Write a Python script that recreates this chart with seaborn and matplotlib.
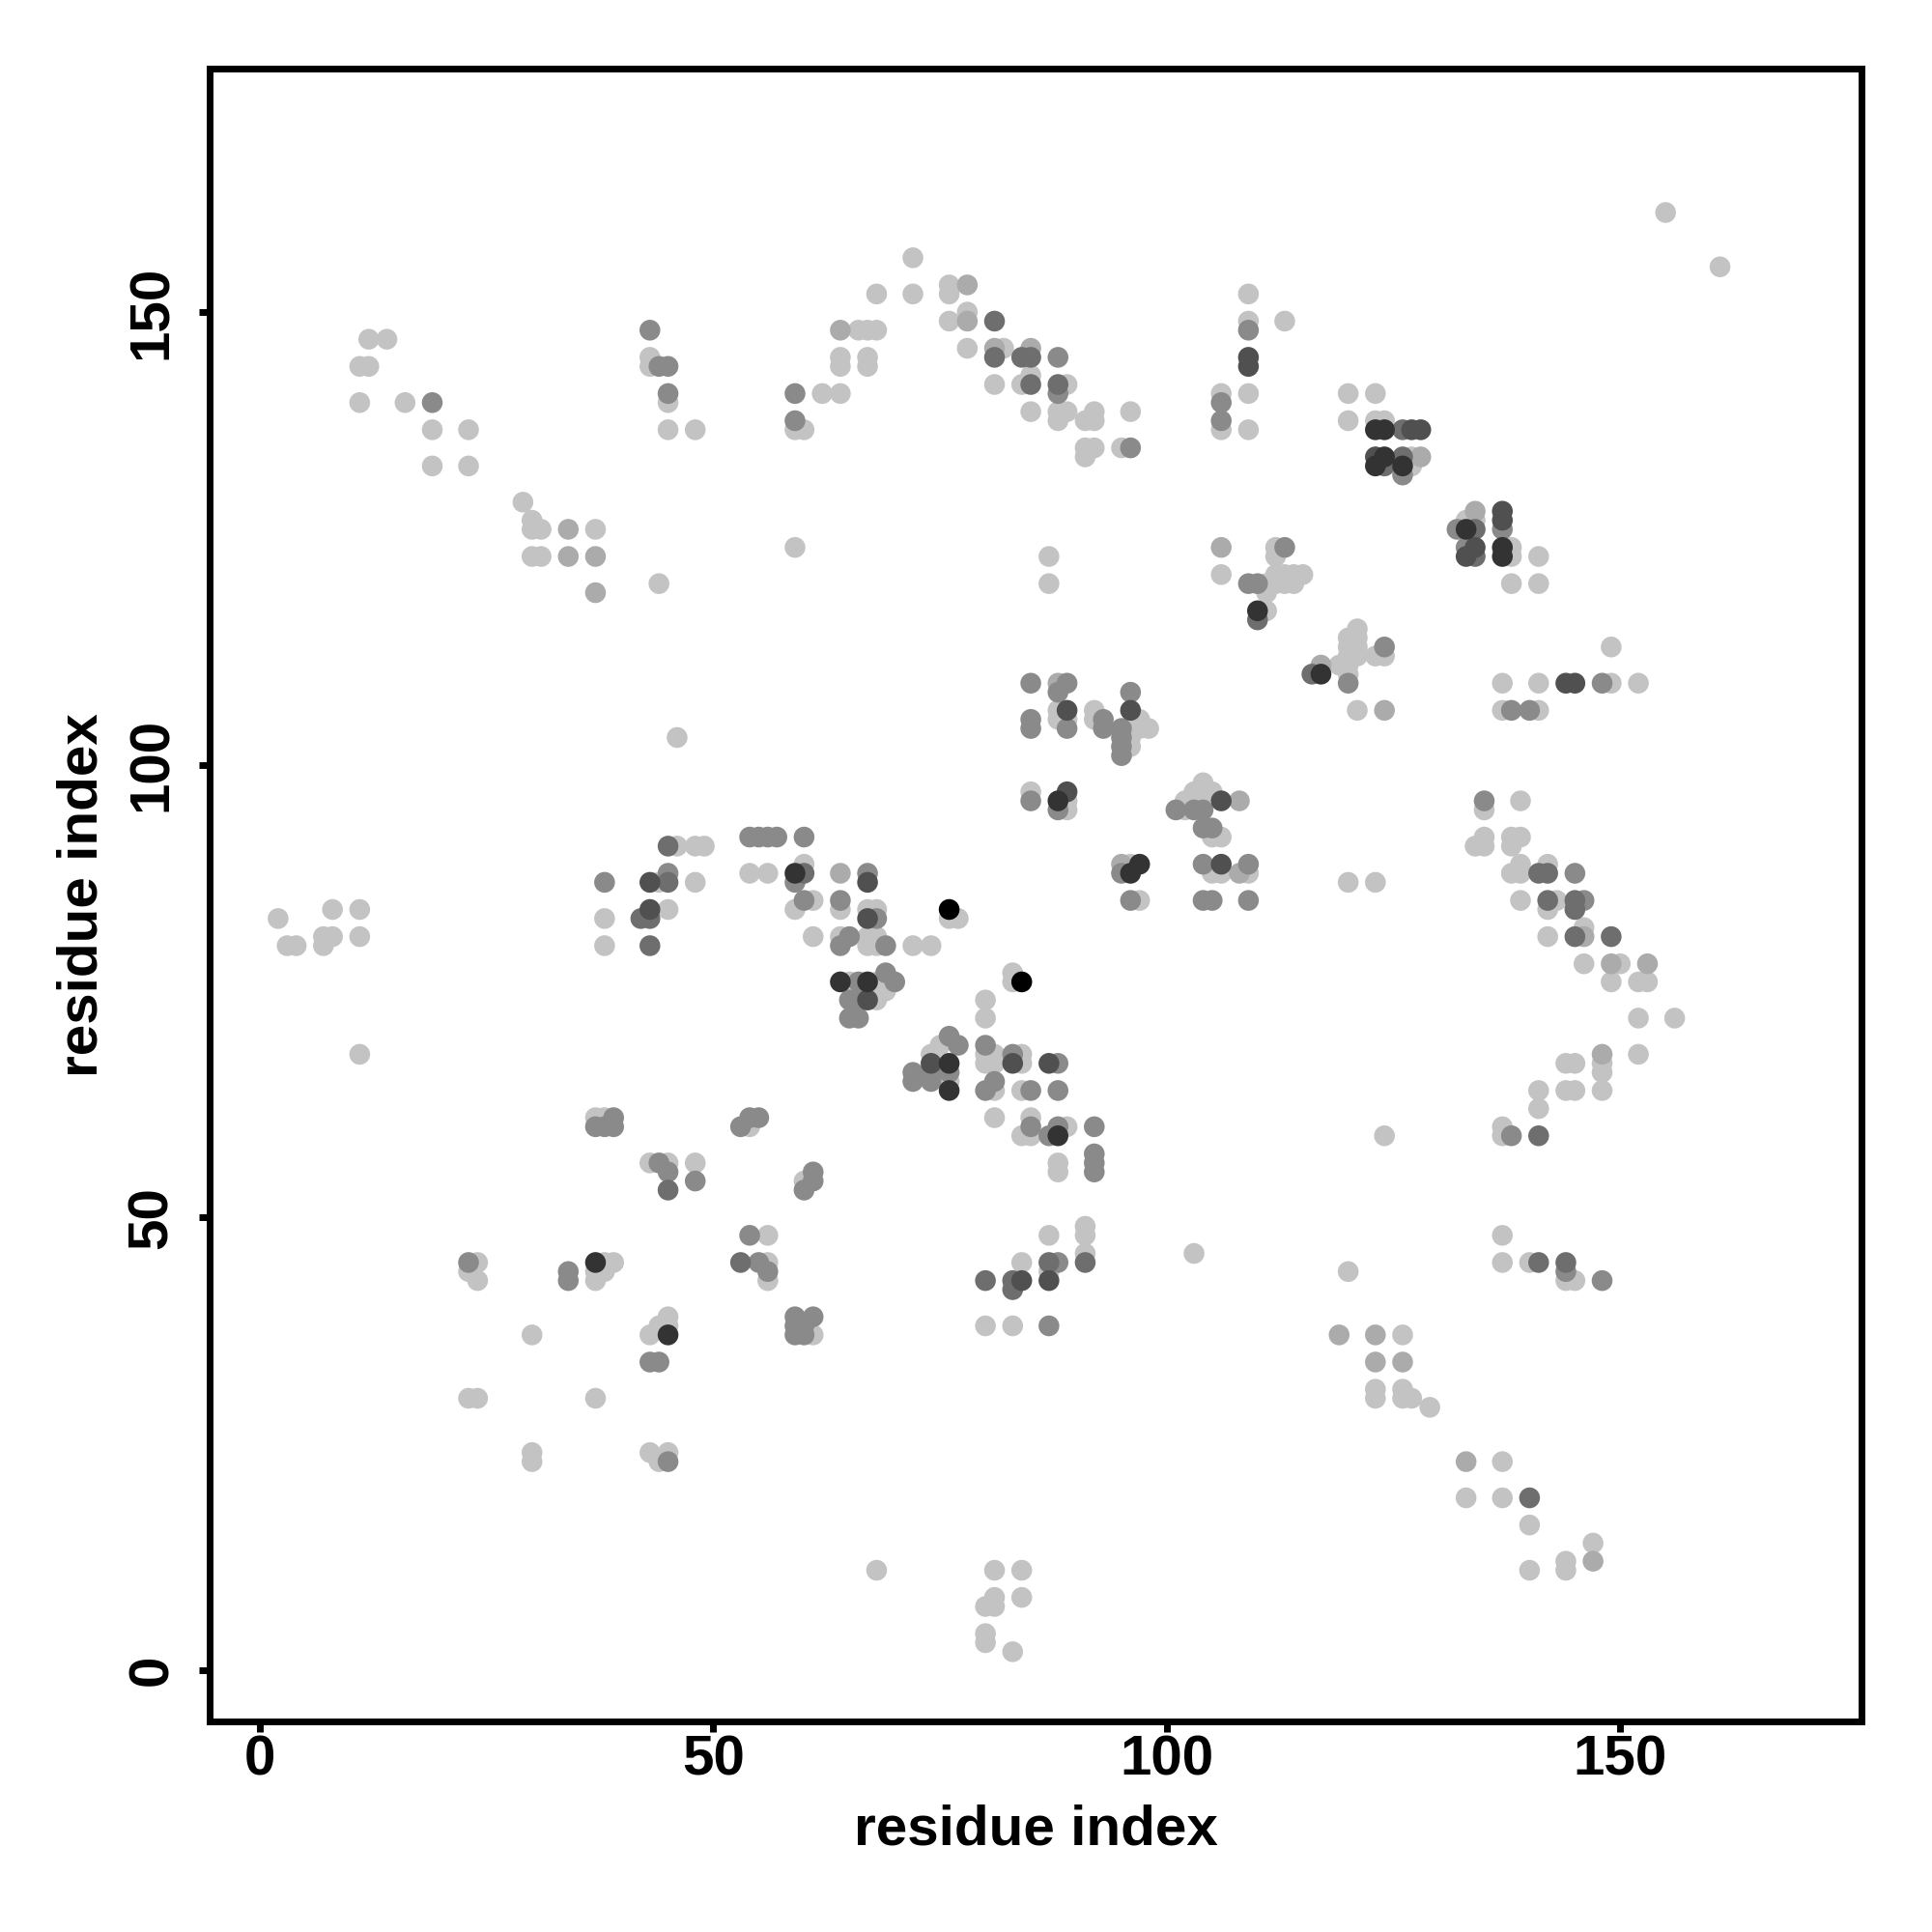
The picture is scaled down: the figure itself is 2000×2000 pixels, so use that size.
import matplotlib
matplotlib.use("Agg")
import matplotlib.pyplot as plt
import pandas as pd
import seaborn as sns

# residue contact pairs (i, j), grouped by contact shade (1 = faint ... 7 = strongest)
shade_1 = [
    (12, 147), (14, 147), (11, 144), (12, 144), (11, 140), (16, 140), (19, 137), (23, 137), (19, 133), (23, 133),
    (43, 145), (43, 144), (45, 140), (45, 137), (48, 137),
    (72, 156), (68, 152), (72, 152), (76, 153), (76, 152), (76, 149), (78, 150), (66, 148), (67, 148), (68, 148),
    (64, 145), (64, 144), (67, 145), (67, 144), (62, 141), (64, 141), (59, 137), (60, 137), (78, 146), (82, 146),
    (81, 142), (84, 142), (85, 143), (89, 142), (85, 139), (88, 139), (88, 138), (89, 139), (91, 138), (92, 139),
    (92, 138), (96, 139), (91, 135), (91, 134), (92, 135), (95, 135), (109, 152), (113, 149), (109, 149), (109, 141),
    (106, 141), (106, 137), (109, 137),
    (155, 161), (161, 155), (120, 141), (123, 141), (120, 138), (123, 138), (124, 138), (127, 134), (127, 133),
    (29, 129), (30, 127), (30, 126), (31, 126), (37, 126), (30, 123), (31, 123), (44, 120), (46, 103), (46, 91),
    (48, 91), (49, 91), (54, 88), (44, 87), (48, 87),
    (59, 124), (87, 123), (87, 120), (106, 121), (112, 124), (112, 123), (111, 120), (111, 119), (112, 121),
    (113, 121), (114, 121), (115, 121), (112, 120), (113, 120), (114, 120), (111, 117), (88, 106), (88, 105),
    (89, 105), (92, 106), (92, 105), (97, 105), (98, 104), (97, 104), (96, 103), (96, 102), (85, 97), (89, 96),
    (89, 95), (102, 96), (102, 95), (103, 97), (104, 98), (104, 97), (105, 97), (106, 92), (105, 92), (56, 88),
    (60, 89), (96, 89), (105, 88), (106, 88), (109, 88),
    (133, 127), (134, 127), (138, 124), (138, 123), (141, 123), (138, 120), (141, 120), (121, 115), (120, 114),
    (120, 113), (120, 112), (121, 114), (121, 113), (121, 112), (120, 111), (123, 112), (124, 112), (119, 111),
    (120, 110), (121, 106), (137, 109), (141, 109), (149, 109), (152, 109), (149, 113), (137, 106), (141, 106),
    (135, 95), (139, 96), (134, 91), (135, 92), (135, 91), (138, 92), (139, 92), (138, 91), (138, 88), (139, 88),
    (139, 89), (142, 89), (120, 87), (123, 87), (139, 85), (143, 85),
    (2, 83), (3, 80), (4, 80), (7, 81), (8, 81), (7, 80), (8, 84), (11, 84), (11, 81), (11, 68), (38, 83), (38, 80),
    (45, 84), (37, 61), (38, 61), (43, 56), (45, 56), (48, 56), (54, 60), (24, 45), (23, 44), (24, 43), (38, 45),
    (39, 45), (37, 44), (38, 44), (37, 43), (45, 39),
    (59, 84), (61, 85), (64, 84), (67, 84), (68, 84), (76, 83), (77, 83), (61, 81), (64, 81), (67, 81), (68, 81),
    (67, 80), (68, 80), (72, 80), (74, 80), (65, 76), (68, 76), (69, 75), (68, 74), (83, 77), (83, 76), (80, 74),
    (80, 72), (75, 69), (74, 68), (76, 65), (80, 68), (81, 68), (80, 67), (81, 67), (84, 68), (84, 67), (81, 64),
    (84, 64), (81, 61), (85, 61), (84, 59), (85, 59), (89, 60), (88, 56), (88, 55), (60, 54), (56, 48), (56, 45),
    (56, 43), (87, 48), (91, 49), (91, 48), (91, 46), (84, 45), (87, 44), (103, 46), (97, 85),
    (142, 84), (142, 81), (146, 82), (146, 78), (150, 78), (149, 76), (152, 76), (153, 76), (152, 72), (156, 72),
    (152, 68), (148, 67), (148, 66), (144, 67), (145, 67), (148, 64), (144, 64), (145, 64), (141, 64), (141, 62),
    (137, 60), (137, 59), (124, 59), (137, 48), (137, 45), (140, 45), (144, 43), (145, 43), (120, 44),
    (30, 37), (43, 37), (44, 38), (45, 38), (23, 30), (24, 30), (37, 30), (30, 24), (30, 23), (43, 24), (45, 24),
    (44, 23),
    (61, 37), (80, 38), (83, 38), (68, 11), (81, 11), (84, 11), (81, 8), (84, 8), (80, 7), (81, 7), (80, 4), (80, 3),
    (83, 2),
    (126, 37), (123, 31), (126, 31), (123, 30), (126, 30), (127, 30), (129, 29), (137, 23), (133, 19), (137, 19),
    (140, 16), (140, 11), (144, 12), (144, 11), (147, 14),
]
shade_2 = [
    (78, 153), (78, 149), (64, 148), (81, 146), (85, 146), (34, 126), (34, 123), (37, 123), (37, 119), (106, 124),
    (88, 109), (108, 96), (64, 88), (95, 89), (108, 88), (134, 128), (117, 111), (124, 106), (128, 134), (146, 81),
    (149, 78), (153, 78), (148, 68), (119, 37), (123, 37), (123, 34), (126, 34), (133, 23), (147, 12),
]
shade_3 = [
    (19, 140), (43, 148), (44, 144), (45, 144), (45, 141), (88, 145), (88, 141), (59, 141), (59, 138), (96, 135),
    (109, 148), (106, 140), (106, 138), (126, 132), (54, 92), (38, 87), (45, 88), (113, 124), (109, 120), (110, 120),
    (85, 109), (89, 109), (88, 108), (85, 105), (85, 104), (89, 104), (93, 105), (93, 104), (96, 108), (95, 104),
    (95, 103), (95, 102), (95, 101), (85, 96), (88, 95), (101, 95), (103, 95), (104, 95), (104, 93), (105, 93),
    (55, 92), (56, 92), (57, 92), (60, 92), (59, 87), (67, 88), (95, 88), (104, 89), (109, 89),
    (132, 126), (137, 126), (133, 124), (124, 113), (120, 109), (148, 109), (138, 106), (140, 106), (135, 96),
    (145, 88), (146, 85),
    (39, 61), (37, 60), (38, 60), (39, 60), (44, 56), (45, 55), (48, 54), (54, 61), (53, 60), (55, 61), (54, 48),
    (55, 45), (23, 45), (34, 44), (34, 43),
    (60, 85), (64, 85), (68, 83), (65, 81), (64, 80), (69, 80), (66, 76), (69, 77), (70, 76), (65, 74), (66, 74),
    (65, 72), (66, 72), (76, 70), (77, 69), (72, 66), (72, 65), (74, 66), (74, 65), (76, 66), (80, 69), (83, 68),
    (88, 67), (81, 65), (80, 64), (85, 64), (88, 64), (85, 60), (87, 59), (88, 60), (92, 60), (92, 57), (92, 56),
    (92, 55), (61, 55), (61, 54), (60, 53), (56, 44), (88, 45), (96, 85), (104, 85), (105, 85), (109, 85),
    (138, 59), (144, 44), (148, 43), (43, 34), (44, 34), (45, 23), (59, 39), (61, 39), (59, 38), (60, 38), (59, 37),
    (60, 37), (87, 38),
]
shade_4 = [
    (81, 149), (81, 145), (84, 145), (85, 145), (85, 142), (88, 142), (126, 137), (124, 133), (126, 134), (45, 91),
    (45, 87), (110, 116), (60, 88), (134, 126), (134, 123), (116, 110), (141, 88), (142, 88), (142, 85), (145, 85),
    (42, 83), (43, 83), (43, 80), (45, 53), (53, 45), (91, 45), (87, 45), (80, 43), (83, 43), (83, 42), (145, 84),
    (145, 81), (149, 81), (141, 59), (141, 45), (144, 45), (140, 19),
]
shade_5 = [
    (109, 145), (109, 144), (127, 137), (128, 137), (123, 134), (43, 87), (89, 106), (96, 106), (89, 97), (106, 96),
    (67, 87), (106, 89), (137, 128), (137, 127), (134, 124), (133, 123), (144, 109), (145, 109), (43, 84), (67, 83),
    (67, 74), (74, 67), (83, 67), (87, 67), (87, 43), (84, 43),
]
shade_6 = [
    (123, 137), (124, 137), (124, 134), (123, 133), (126, 133), (110, 117), (88, 96), (59, 88), (97, 89), (96, 88),
    (133, 126), (137, 124), (137, 123), (117, 110), (37, 45), (64, 76), (67, 76), (76, 67), (76, 64), (88, 59),
    (45, 37),
]
shade_7 = [(76, 84), (84, 76)]

shade_colors = {1: "#c3c3c3", 2: "#ababab", 3: "#8a8a8a", 4: "#6e6e6e",
                5: "#505050", 6: "#333333", 7: "#000000"}

rows = []
for level, pts in enumerate([shade_1, shade_2, shade_3, shade_4, shade_5, shade_6, shade_7], start=1):
    for i, j in pts:
        rows.append((i, j, level))
df = pd.DataFrame(rows, columns=["i", "j", "level"])

sns.set_style("ticks")
plt.rcParams["font.family"] = ["Liberation Sans", "DejaVu Sans"]
plt.rcParams["font.weight"] = "bold"
plt.rcParams["text.color"] = "black"
plt.rcParams["axes.labelcolor"] = "black"
plt.rcParams["xtick.color"] = "black"
plt.rcParams["ytick.color"] = "black"

fig = plt.figure(figsize=(10, 10), dpi=200)
ax = fig.add_axes([0.1085, 0.109, 0.855, 0.8555])
sns.scatterplot(data=df, x="i", y="j", hue="level", palette=shade_colors,
                s=60, linewidth=0, legend=False, ax=ax)

ax.set_xlim(-5.55, 176.6)
ax.set_ylim(-5.7, 176.9)
ticks = [0, 50, 100, 150]
ax.set_xticks(ticks)
ax.set_yticks(ticks)
for side in ["left", "right", "top", "bottom"]:
    ax.spines[side].set_visible(True)
    ax.spines[side].set_color("black")
    ax.spines[side].set_linewidth(2.5)

ax.tick_params(axis="both", length=4, width=2.5, labelsize=21,
               color="black", labelcolor="black")
ax.tick_params(axis="x", pad=1)
ax.tick_params(axis="y", pad=7.5, labelrotation=90)
for lbl in ax.get_yticklabels():
    lbl.set_va("center")

ax.set_xlabel("residue index", fontsize=21, fontweight="bold", labelpad=6.5, color="black")
ax.set_ylabel("residue index", fontsize=21, fontweight="bold", labelpad=6.5, color="black")

fig.savefig("out.png", dpi=200)
plt.close(fig)
